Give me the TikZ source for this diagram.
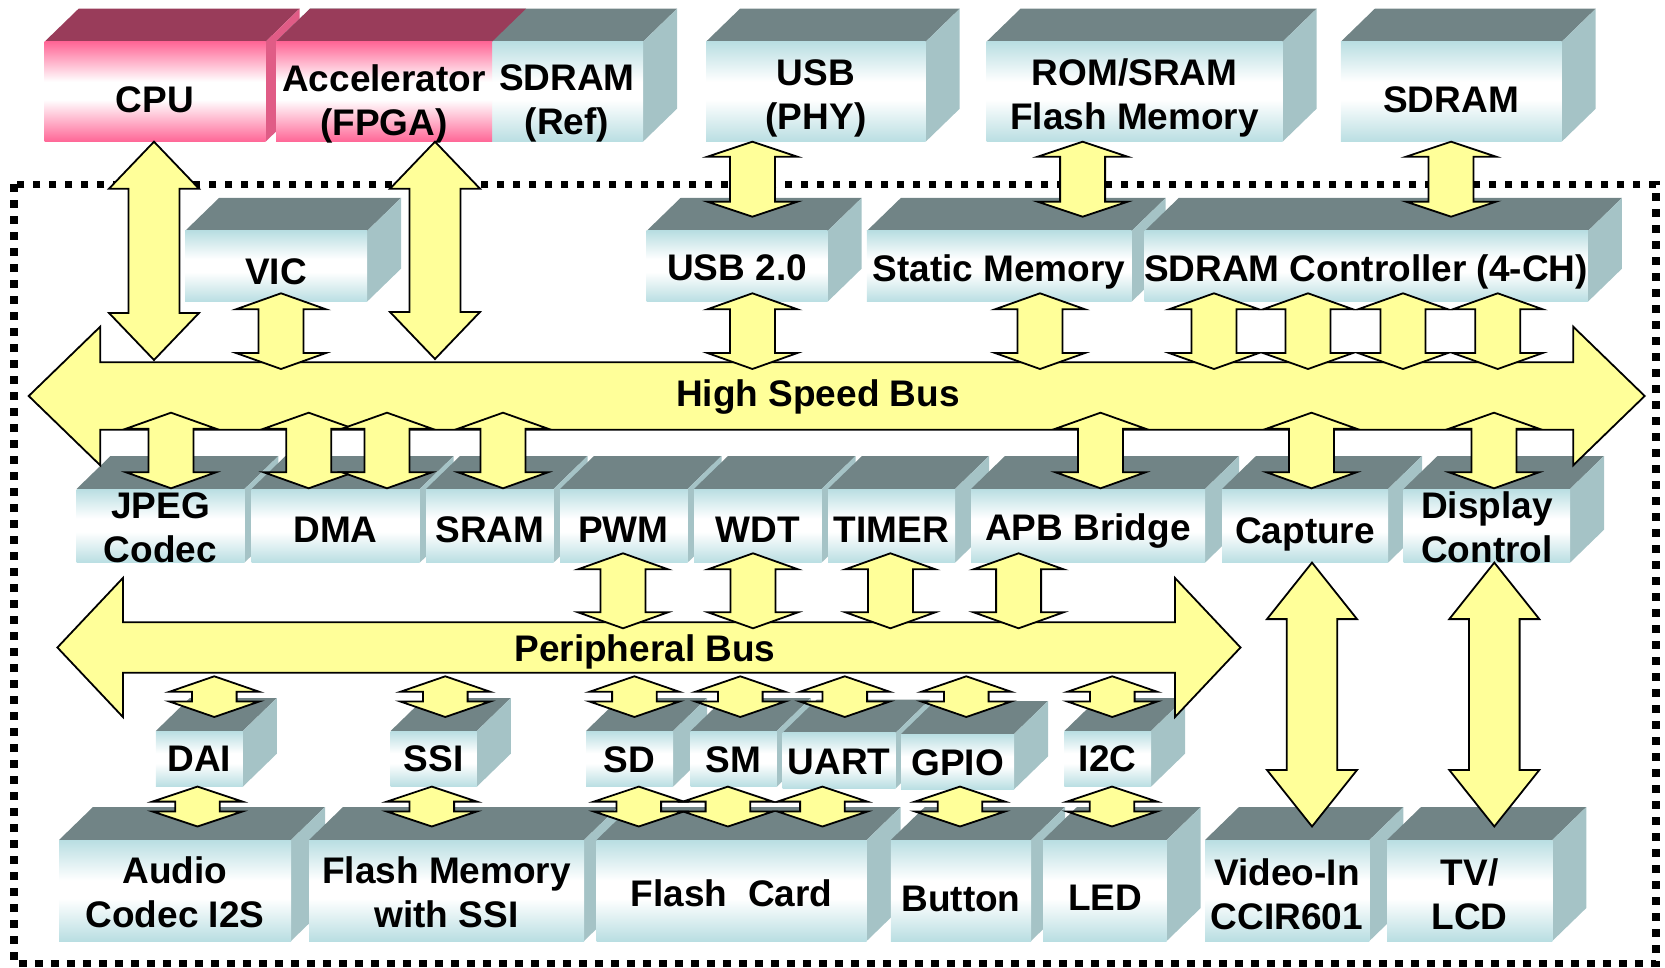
\documentclass[tikz,border=0pt]{standalone}
\usepackage{fontspec}
\setmainfont{Liberation Sans}
\usetikzlibrary{calc}

\definecolor{cyfr}{RGB}{185,222,226}
\definecolor{cytop}{RGB}{113,132,134}
\definecolor{cyside}{RGB}{165,195,198}
\definecolor{pkfr}{RGB}{255,102,150}
\definecolor{pktop}{RGB}{153,60,90}
\definecolor{pkside}{RGB}{224,92,134}
\definecolor{busyellow}{RGB}{255,255,153}

\pgfdeclareverticalshading{cyface}{100bp}{color(0bp)=(cyfr); color(25bp)=(cyfr); color(46bp)=(white); color(55bp)=(white); color(75bp)=(cyfr); color(100bp)=(cyfr)}
\pgfdeclareverticalshading{pkface}{100bp}{color(0bp)=(pkfr); color(25bp)=(pkfr); color(46bp)=(white); color(55bp)=(white); color(75bp)=(pkfr); color(100bp)=(pkfr)}

% 3d block: front face from (#2,#3) to (#4,#5)
\newcommand\blockbox[5][cy]{%
 \fill[#1top] (#2,#3) -- ++(34,-33) -- ($(#4,#3)+(34,-33)$) -- (#4,#3) -- cycle;
 \fill[#1side] (#4,#3) -- ++(34,-33) -- ($(#4,#5)+(34,-33)$) -- (#4,#5) -- cycle;
 \shade[shading=#1face] (#2,#3) rectangle (#4,#5);
}
% up-down block arrow: x, top tip, bottom tip, head length, half shaft
\newcommand\udarrow[5]{%
 \filldraw[blockarrow] (#1,#2) -- ++(45,#4) -- ++({-45+#5},0) -- (#1+#5,#3-#4) -- ++({45-#5},0)
  -- (#1,#3) -- ++(-45,-#4) -- ++({45-#5},0) -- (#1-#5,#2+#4) -- ++({-45+#5},0) -- cycle;
}
% left-right bus arrow: left tip, right tip, y, head length, half head, half shaft
\newcommand\lrarrow[6]{%
 \filldraw[blockarrow] (#1,#3) -- (#1+#4,#3-#5) -- (#1+#4,#3-#6) -- (#2-#4,#3-#6) -- (#2-#4,#3-#5)
  -- (#2,#3) -- (#2-#4,#3+#5) -- (#2-#4,#3+#6) -- (#1+#4,#3+#6) -- (#1+#4,#3+#5) -- cycle;
}

\begin{document}
\begin{tikzpicture}[x=0.5pt, y=-0.5pt,
 blockarrow/.style={fill=busyellow, draw=black, line width=0.9pt, line join=miter},
 lbl/.style={font=\bfseries\fontsize{18.5pt}{22pt}\selectfont, align=center, inner sep=0pt, text depth=0pt}]
\useasboundingbox (0,0) rectangle (1665,968);

\draw[line width=3.6pt, dash pattern=on 3.9pt off 4.1pt] (14,184.3) rectangle (1656,963.5);

% top row
\blockbox[pk]{44.6}{41.7}{265.6}{141.7}
\blockbox{276}{41.7}{643}{141.7}
\fill[pktop] (276,41.7) -- (310,8.7) -- (526,8.7) -- (492,41.7) -- cycle;
\shade[shading=pkface] (276,41.7) rectangle (492,141.7);
\foreach \xa/\xb in {706/925.7, 986.5/1282.6, 1340.8/1561.7}
 \blockbox{\xa}{41.7}{\xb}{141.7};

% inside the chip
\foreach \xa/\xb in {185/367, 646.5/827.6, 866.8/1131.6, 1144.7/1587.9}
 \blockbox{\xa}{231}{\xb}{301.7};
\foreach \xa/\xb in {76.5/244.4, 251.5/419.7, 426/553.5, 560/687.5, 694/821.5, 828/955, 971/1205, 1222/1388, 1403.5/1570}
 \blockbox{\xa}{489}{\xb}{562.7};
\foreach \xa/\ya/\xb/\yb in {155.8/731/242.8/786.7, 390.6/731/476.8/786.7, 586/731/673/786.7, 690.6/731/776.8/786.7, 782.6/732.7/895.7/788.3, 901/734/1014/789.4, 1064.4/731/1151/786.7}
 \blockbox{\xa}{\ya}{\xb}{\yb};
\foreach \xa/\xb in {59/291, 309/584, 596.5/866.7, 890.8/1031, 1043/1166.7, 1205/1369.4, 1387/1552.3}
 \blockbox{\xa}{840}{\xb}{941};

% buses
\lrarrow{28.7}{1644.7}{396}{71.5}{69.3}{33.7}
\lrarrow{57.4}{1240.5}{647.5}{65.5}{69.5}{25.2}

\udarrow{154}{141.7}{360}{47}{25.5}
\udarrow{435}{141.7}{359}{47}{25.5}
\foreach \x in {752.4,1082.6,1451}
 \udarrow{\x}{141.7}{216.7}{15}{22.5};
\foreach \x in {281,752.4,1040,1214,1308,1403,1497.7}
 \udarrow{\x}{293.3}{369}{16}{22.5};
\foreach \x in {171,308.7,387,503,1100.5,1311.5,1494}
 \udarrow{\x}{412.7}{488.3}{16}{22.5};
\foreach \x in {623,753,890.4,1018.6}
 \udarrow{\x}{553.3}{628.3}{16}{22.5};
\foreach \x in {214.3,445.3,634.4,740.3,844.8,966.3,1112.3}
 \udarrow{\x}{676.3}{717}{15.5}{22.3};
\foreach \x in {197.5,431.8,638.8,727.9,822.4,960,1112}
 \udarrow{\x}{786.6}{826.5}{15}{22.3};
\udarrow{1312}{562.6}{826.5}{56.5}{25.3}
\udarrow{1494.3}{562.6}{826.5}{56.5}{25.3}

% labels
\node[lbl] (cpu) at (155,99.5) {CPU};
\node[lbl] (accel) at (384,99.7) {Accelerator\\(FPGA)};
\node[lbl] (sdramref) at (567,99.7) {SDRAM\\(Ref)};
\node[lbl] (usbphy) at (816,94.6) {USB\\(PHY)};
\node[lbl] (romflash) at (1134.5,94.2) {ROM/SRAM\\Flash Memory};
\node[lbl] (sdram) at (1451,99.5) {SDRAM};
\node[lbl] (vic) at (276,271.7) {VIC};
\node[lbl] (usb) at (737,268) {USB 2.0};
\node[lbl] (smc) at (999,268) {Static Memory};
\node[lbl] (sdc) at (1366,268) {SDRAM Controller (4-CH)};
\node[lbl] (hsb) at (818,393) {High Speed Bus};
\node[lbl] (jpeg) at (160.5,527.5) {JPEG\\Codec};
\node[lbl] (dma) at (335.5,530) {DMA};
\node[lbl] (sram) at (490,530) {SRAM};
\node[lbl] (pwm) at (623.5,530) {PWM};
\node[lbl] (wdt) at (757.7,530) {WDT};
\node[lbl] (timer) at (891.5,530) {TIMER};
\node[lbl] (apb) at (1088,527) {APB Bridge};
\node[lbl] (capture) at (1305,531) {Capture};
\node[lbl] (display) at (1487,527.5) {Display\\Control};
\node[lbl] (pb) at (645,648) {Peripheral Bus};
\node[lbl] (dai) at (199.3,759) {DAI};
\node[lbl] (ssi) at (433.7,759) {SSI};
\node[lbl] (sd) at (629.5,760) {SD};
\node[lbl] (sm) at (733.7,760) {SM};
\node[lbl] (uart) at (839,761.5) {UART};
\node[lbl] (gpio) at (957.5,763) {GPIO};
\node[lbl] (iic) at (1107.7,759) {I2C};
\node[lbl] (audio) at (175,892.5) {Audio\\Codec I2S};
\node[lbl] (flashmem) at (446.5,892.5) {Flash Memory\\with SSI};
\node[lbl] (flashcard) at (731.6,893.3) {Flash~~Card};
\node[lbl] (button) at (961,898.5) {Button};
\node[lbl] (led) at (1105,898) {LED};
\node[lbl] (video) at (1287,894.5) {Video-In\\CCIR601};
\node[lbl] (tvlcd) at (1469.6,894.5) {TV/\\LCD};
\end{tikzpicture}
\end{document}
